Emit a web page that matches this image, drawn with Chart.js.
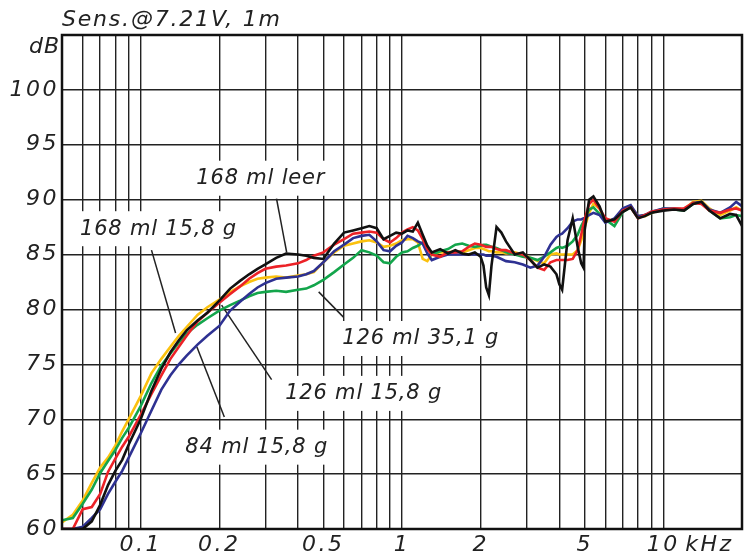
<!DOCTYPE html>
<html>
<head>
<meta charset="utf-8">
<script src="https://cdn.jsdelivr.net/npm/chart.js@4"></script>
<style>
  html, body { margin: 0; padding: 0; background: #fff; }
  #wrap { width: 745px; height: 558px; }
</style>
</head>
<body>
<div id="wrap"><canvas id="sensChart"></canvas></div>
<script>
// frequency points in kHz
const freqs = [0.05, 0.055, 0.06, 0.065, 0.07, 0.075, 0.08, 0.085, 0.09, 0.1,
  0.11, 0.12, 0.13, 0.14, 0.15, 0.165, 0.18, 0.2, 0.22, 0.24,
  0.26, 0.28, 0.3, 0.33, 0.36, 0.4, 0.43, 0.46, 0.5, 0.55,
  0.6, 0.65, 0.7, 0.75, 0.8, 0.85, 0.9, 0.95, 1.0, 1.05,
  1.1, 1.15, 1.2, 1.25, 1.3, 1.4, 1.5, 1.6, 1.7, 1.8,
  1.9, 2.0, 2.05, 2.1, 2.15, 2.2, 2.3, 2.4, 2.5, 2.7,
  2.9, 3.1, 3.3, 3.5, 3.7, 3.9, 4.0, 4.1, 4.3, 4.5,
  4.7, 4.85, 4.95, 5.0, 5.2, 5.4, 5.7, 6.0, 6.5, 7.0,
  7.5, 8.0, 8.5, 9.0, 10, 11, 12, 13, 14, 15,
  16.5, 18, 19, 20];

// dB values
const leer168 = [60, 60, 60, 60.7, 62.2, 64.0, 65.3, 66.3, 67.7, 70.0,
  72.6, 74.6, 76.1, 77.2, 78.1, 79.0, 79.7, 80.8, 81.9, 82.6,
  83.2, 83.7, 84.1, 84.7, 85.1, 85.0, 84.9, 84.7, 84.6, 86.0,
  87.0, 87.2, 87.4, 87.6, 87.4, 86.4, 86.7, 87.0, 86.9, 87.2,
  87.1, 87.9, 86.8, 85.8, 85.2, 85.5, 85.1, 85.4, 85.1, 85.0,
  85.2, 84.8, 84.0, 82.0, 81.3, 84.0, 87.5, 87.0, 86.2, 85.0,
  85.2, 84.5, 83.8, 84.1, 83.9, 83.2, 82.3, 81.8, 86.3, 88.3,
  85.7, 84.2, 83.8, 87.2, 90.0, 90.3, 89.4, 88.0, 88.2, 88.9,
  89.3, 88.3, 88.5, 88.8, 89.0, 89.1, 89.0, 89.6, 89.8, 89.0,
  88.3, 88.7, 88.6, 87.6];

const ml126g158 = [60, 60, 61.8, 62.0, 63.2, 65.2, 66.4, 67.5, 68.4, 70.4,
  72.3, 74.0, 75.5, 76.6, 77.6, 78.9, 79.7, 80.6, 81.4, 82.1,
  82.8, 83.3, 83.7, 83.9, 84.0, 84.2, 84.5, 84.9, 85.2, 85.9,
  86.4, 86.9, 87.0, 87.1, 87.0, 86.4, 86.1, 86.5, 87.0, 87.3,
  87.5, 87.2, 86.4, 85.5, 85.0, 84.8, 85.2, 85.2, 85.3, 85.7,
  86.0, 85.9, 85.8, 85.7, 85.7, 85.7, 85.5, 85.4, 85.4, 85.1,
  85.0, 84.5, 83.8, 83.6, 84.3, 84.5, 84.5, 84.5, 84.5, 84.6,
  85.4, 86.8, 87.8, 88.2, 89.6, 90.0, 89.2, 88.3, 88.0, 89.0,
  89.3, 88.3, 88.6, 88.9, 89.1, 89.2, 89.2, 89.7, 89.6, 89.0,
  88.8, 89.1, 89.2, 89.0];

const ml168g158 = [60.6, 61.3, 62.6, 64.2, 65.6, 66.5, 67.6, 68.9, 70.0, 72.1,
  74.2, 75.5, 76.6, 77.6, 78.4, 79.5, 80.2, 80.9, 81.6, 82.1,
  82.5, 82.8, 82.9, 83.0, 82.9, 83.1, 83.2, 83.4, 84.3, 85.2,
  85.8, 86.0, 86.2, 86.3, 86.1, 85.7, 85.8, 86.0, 86.3, 86.4,
  86.4, 86.1, 84.6, 84.4, 85.0, 85.2, 85.2, 85.3, 85.2, 85.4,
  85.6, 85.6, 85.5, 85.4, 85.3, 85.3, 85.2, 85.2, 85.1, 85.2,
  85.0, 84.7, 84.4, 84.2, 85.0, 85.1, 85.0, 85.0, 85.0, 85.0,
  85.4, 86.3, 87.0, 87.5, 88.8, 89.6, 89.2, 88.1, 88.2, 89.0,
  89.4, 88.5, 88.5, 88.8, 89.1, 89.2, 89.1, 89.8, 89.9, 89.2,
  88.6, 89.0, 89.3, 89.0];

const ml126g351 = [60.8, 61.0, 62.3, 63.6, 65.1, 66.2, 67.2, 68.3, 69.2, 71.2,
  73.3, 74.9, 76.0, 77.0, 77.8, 78.6, 79.2, 79.9, 80.4, 80.8,
  81.2, 81.5, 81.6, 81.7, 81.6, 81.8, 81.9, 82.2, 82.7, 83.4,
  84.1, 84.7, 85.4, 85.2, 84.9, 84.3, 84.2, 84.8, 85.2, 85.3,
  85.6, 85.8, 86.1, 85.6, 85.0, 85.3, 85.5, 85.9, 86.0, 85.8,
  85.7, 85.8, 85.9, 85.9, 85.8, 85.7, 85.6, 85.4, 85.2, 85.0,
  84.8, 84.7, 84.5, 84.8, 85.2, 85.6, 85.7, 85.6, 85.8, 86.2,
  86.8, 87.6, 88.0, 88.3, 89.1, 89.3, 88.7, 88.2, 87.6, 88.9,
  89.3, 88.4, 88.6, 88.8, 89.2, 89.1, 89.0, 89.6, 89.8, 89.0,
  88.3, 88.4, 88.6, 88.5];

const ml84g158 = [60, 60, 60.2, 61.0, 61.8, 63.2, 64.3, 65.3, 66.5, 68.7,
  70.8, 72.7, 74.0, 75.0, 75.8, 76.8, 77.6, 78.5, 79.9, 80.7,
  81.4, 82.0, 82.4, 82.8, 82.9, 83.0, 83.2, 83.5, 84.3, 85.3,
  85.9, 86.5, 86.7, 86.8, 86.2, 85.4, 85.3, 85.8, 86.1, 86.7,
  86.5, 86.2, 86.0, 85.1, 84.5, 84.8, 85.0, 85.0, 85.0, 85.0,
  85.0, 85.0, 85.0, 84.9, 84.9, 84.9, 84.8, 84.6, 84.4, 84.3,
  84.1, 83.8, 84.0, 84.8, 85.9, 86.6, 86.8, 86.9, 87.4, 88.0,
  88.2, 88.2, 88.3, 88.3, 88.6, 88.8, 88.6, 87.9, 88.3, 89.2,
  89.5, 88.5, 88.6, 88.9, 89.2, 89.2, 89.1, 89.7, 89.8, 89.1,
  88.8, 89.3, 89.8, 89.4];

const xTicks = [0.05, 0.06, 0.07, 0.08, 0.09, 0.1, 0.2, 0.3, 0.4, 0.5, 0.6, 0.7, 0.8, 0.9,
  1, 2, 3, 4, 5, 6, 7, 8, 9, 10, 15, 20];
const xLabels = { 0.1: '0.1', 0.2: '0.2', 0.5: '0.5', 1: '1', 2: '2', 5: '5', 10: '10', 15: 'kHz' };

// annotations (text, anchor, leader line) in kHz / dB
const noteTexts = ['168 ml leer', '168 ml 15,8 g', '126 ml 35,1 g', '126 ml 15,8 g', '84 ml 15,8 g'];
const noteAt = [[0.288, 92.0], [0.117, 87.4], [1.18, 77.4], [0.713, 72.4], [0.278, 67.5]];
const leaderFrom = [[0.331, 90.1], [0.110, 85.4], [0.480, 81.6], [0.204, 80.4], [0.164, 76.6]];
const leaderTo = [[0.362, 85.2], [0.136, 77.85], [0.597, 79.3], [0.317, 73.6], [0.209, 70.2]];

const pts = vals => freqs.map((f, i) => ({ x: f, y: vals[i] }));

const FONT = '"DejaVu Sans", sans-serif';

const noteLayer = {
    id: 'noteLayer',
    beforeLayout(chart) { chart.ctx.letterSpacing = '2.5px'; },
    beforeDraw(chart) { chart.ctx.letterSpacing = '2.5px'; },
    beforeDatasetsDraw(chart) {
        const { ctx, scales: { x, y } } = chart;
        ctx.save();
        ctx.font = 'italic 21px ' + FONT;
        ctx.letterSpacing = '0.8px';
        ctx.textAlign = 'center';
        ctx.textBaseline = 'middle';
        noteTexts.forEach((t, i) => {
            const px = x.getPixelForValue(noteAt[i][0]);
            const py = y.getPixelForValue(noteAt[i][1]);
            const w = ctx.measureText(t).width;
            ctx.fillStyle = '#fff';
            ctx.fillRect(px - w / 2 - 7, py - 17, w + 14, 35);
            ctx.fillStyle = '#222';
            ctx.fillText(t, px, py + 1);
        });
        ctx.strokeStyle = '#222';
        ctx.lineWidth = 1.5;
        leaderFrom.forEach((a, i) => {
            const b = leaderTo[i];
            ctx.beginPath();
            ctx.moveTo(x.getPixelForValue(a[0]), y.getPixelForValue(a[1]));
            ctx.lineTo(x.getPixelForValue(b[0]), y.getPixelForValue(b[1]));
            ctx.stroke();
        });
        ctx.restore();
    },
    afterDatasetsDraw(chart) {
        const { ctx, chartArea: a } = chart;
        ctx.save();
        ctx.strokeStyle = '#111';
        ctx.lineWidth = 2.5;
        ctx.strokeRect(a.left, a.top, a.right - a.left, a.bottom - a.top);
        ctx.fillStyle = '#222';
        ctx.font = 'italic 22px ' + FONT;
        ctx.letterSpacing = '1px';
        ctx.textBaseline = 'middle';
        ctx.textAlign = 'right';
        ctx.fillText('dB', a.left - 2, a.top + 12);
        ctx.letterSpacing = '1.8px';
        ctx.textAlign = 'left';
        ctx.textBaseline = 'alphabetic';
        ctx.fillText('Sens.@7.21V, 1m', a.left, 26);
        ctx.restore();
    }
};

new Chart(document.getElementById('sensChart'), {
    type: 'line',
    data: {
        datasets: [
            { label: '168 ml leer', data: pts(leer168), borderColor: '#111111' },
            { label: '126 ml 15,8 g', data: pts(ml126g158), borderColor: '#ec2227' },
            { label: '84 ml 15,8 g', data: pts(ml84g158), borderColor: '#2e3192' },
            { label: '126 ml 35,1 g', data: pts(ml126g351), borderColor: '#13a54b' },
            { label: '168 ml 15,8 g', data: pts(ml168g158), borderColor: '#fbc10e' }
        ]
    },
    options: {
        responsive: true,
        maintainAspectRatio: false,
        animation: false,
        layout: { padding: { top: 35, right: 1, left: 0, bottom: 0 } },
        elements: {
            line: { borderWidth: 2.6, tension: 0 },
            point: { radius: 0 }
        },
        plugins: {
            legend: { display: false },
            tooltip: { enabled: false }
        },
        scales: {
            x: {
                type: 'logarithmic',
                min: 0.05,
                max: 20,
                afterBuildTicks: s => { s.ticks = xTicks.map(v => ({ value: v })); },
                afterFit: s => { s.height = 29; },
                border: { display: false },
                grid: {
                    drawTicks: false,
                    lineWidth: 1.4,
                    color: c => (c.tick && c.tick.value === 15) ? 'rgba(0,0,0,0)' : '#222'
                },
                ticks: {
                    autoSkip: false,
                    maxRotation: 0,
                    padding: 3,
                    color: '#222',
                    font: { family: FONT, size: 22, style: 'italic' },
                    callback: v => xLabels[v] || ''
                }
            },
            y: {
                min: 60,
                max: 105,
                afterFit: s => { s.width = 62; },
                border: { display: false },
                grid: { drawTicks: false, lineWidth: 1.4, color: '#222' },
                ticks: {
                    stepSize: 5,
                    padding: 3,
                    color: '#222',
                    font: { family: FONT, size: 22, style: 'italic' },
                    callback: v => v > 100 ? '' : v
                }
            }
        }
    },
    plugins: [noteLayer]
});
</script>
</body>
</html>
